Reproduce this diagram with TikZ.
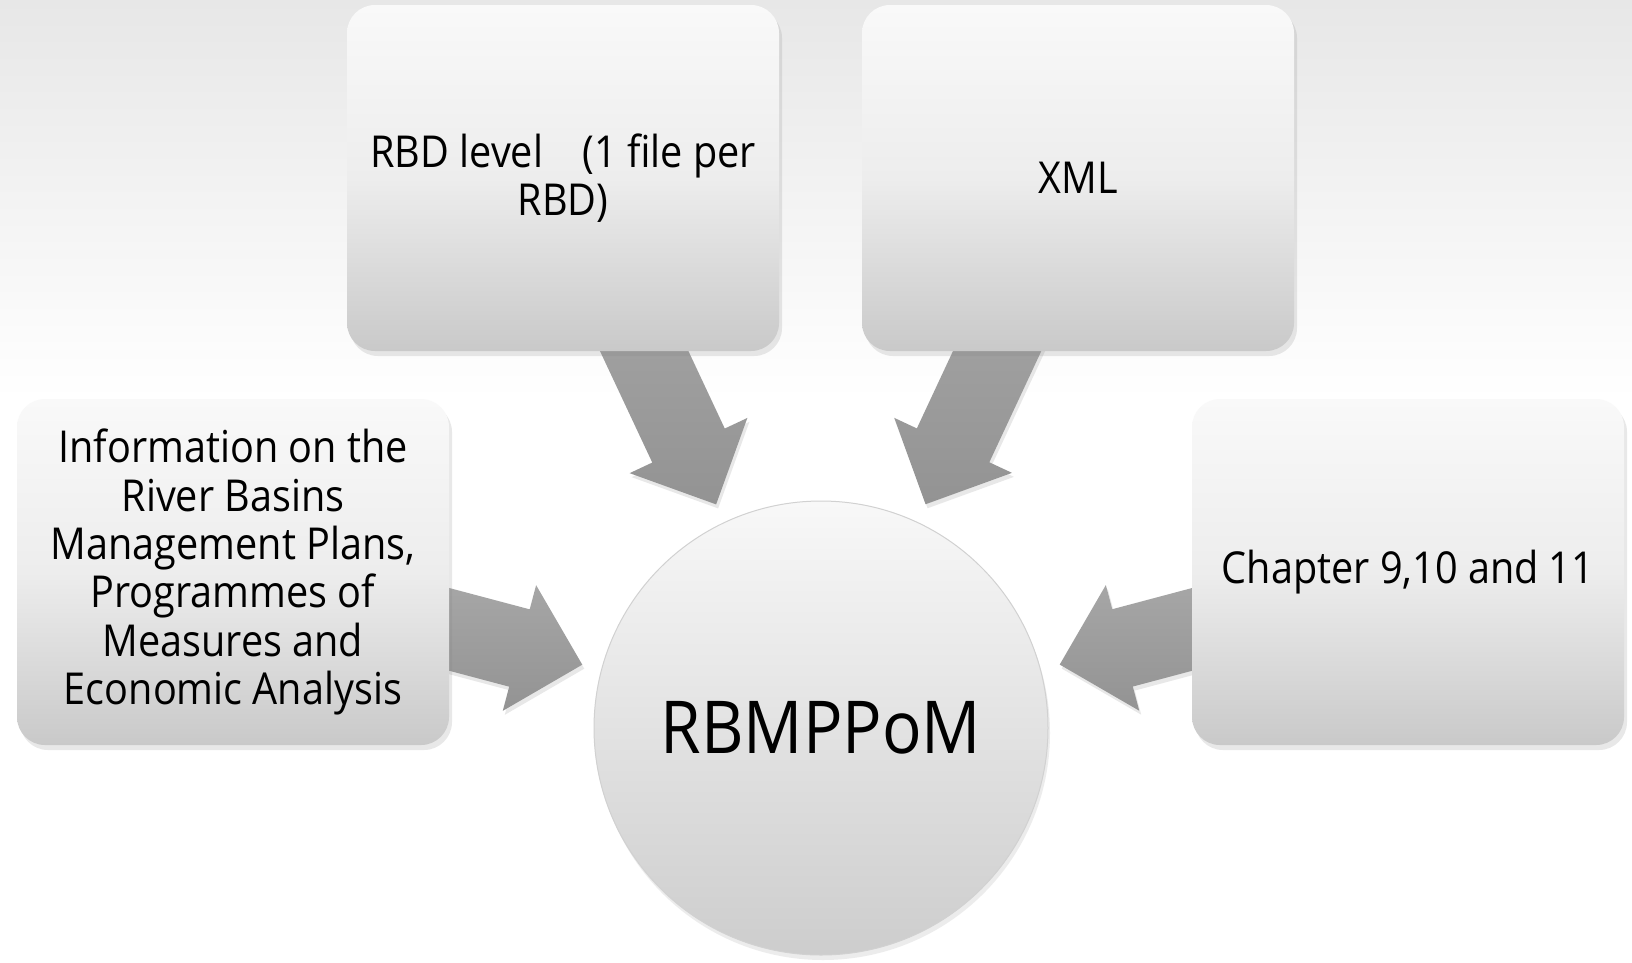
\documentclass[tikz,border=0pt]{standalone}
\usepackage{fontspec}
\setmainfont{Open Sans}[FakeStretch=0.9]
\usetikzlibrary{calc,shadows}
\definecolor{bgtop}{HTML}{E7E7E7}
\definecolor{boxtop}{HTML}{F9F9F9}
\definecolor{boxmid}{HTML}{EDEDED}
\definecolor{boxbot}{HTML}{C9C9C9}
\definecolor{hubtop}{HTML}{F8F8F8}
\definecolor{hubbot}{HTML}{CDCDCD}
\definecolor{arrowtop}{HTML}{AEAEAE}
\definecolor{arrowbot}{HTML}{939393}
\pgfdeclarelayer{backdrop}
\pgfdeclarelayer{links}
\pgfsetlayers{backdrop,links,main}
\newcommand{\blockarrow}[2]
{   \coordinate (#2-j) at ($(#2)!65pt!(#1.center)$);
    \path[arrowfill] ($(#1.center)!40pt!90:(#2)$) -- ($(#2-j)!40pt!90:(#2)$) -- ($(#2-j)!65pt!90:(#2)$) -- (#2) -- ($(#2-j)!65pt!-90:(#2)$) -- ($(#2-j)!40pt!-90:(#2)$) -- ($(#1.center)!40pt!-90:(#2)$) -- cycle;
}
\tikzset{
  box/.style={rectangle, rounded corners=28pt, minimum width=432pt, minimum height=346pt, inner sep=0pt, align=center,
    top color=boxtop, bottom color=boxbot, middle color=boxmid,
    drop shadow={shadow xshift=3pt, shadow yshift=-5pt, opacity=0.18},
    font=\fontsize{44}{48.3}\selectfont},
  hub/.style={circle, minimum size=454pt, inner sep=0pt, draw=black!18, line width=1pt,
    top color=hubtop, bottom color=hubbot,
    drop shadow={shadow xshift=2pt, shadow yshift=-5pt, opacity=0.15},
    font=\fontsize{73}{80}\selectfont},
  arrowfill/.style={top color=arrowtop, bottom color=arrowbot,
    drop shadow={shadow xshift=2pt, shadow yshift=-4pt, opacity=0.18}}
}
\begin{document}
\begin{tikzpicture}[x=1pt,y=-1pt]

 \useasboundingbox (0,0) rectangle (1632,962);
 \begin{pgfonlayer}{backdrop}
   \fill[white] (0,0) rectangle (1632,962);
   \shade[top color=bgtop, bottom color=white] (0,0) rectangle (1632,400);
 \end{pgfonlayer}

 \node[box] (rbd) at (563,178) {RBD level\hspace{29pt} (1 file per\\RBD)};
 \node[box] (xml) at (1078,178) {XML};
 \node[box] (info) at (233,572) {Information on the\\River Basins\\Management Plans,\\Programmes of\\Measures and\\Economic Analysis};
 \node[box] (chap) at (1408,572) {Chapter 9,10 and 11};
 \node[hub] (hub) at (821,728) {RBMPPoM};

 \coordinate (tipA) at ($(hub.center)!247pt!(rbd.center)$);
 \coordinate (tipB) at ($(hub.center)!247pt!(xml.center)$);
 \coordinate (tipC) at ($(hub.center)!247pt!(info.center)$);
 \coordinate (tipD) at ($(hub.center)!247pt!(chap.center)$);

 \begin{pgfonlayer}{links}
   \blockarrow{rbd}{tipA}
   \blockarrow{xml}{tipB}
   \blockarrow{info}{tipC}
   \blockarrow{chap}{tipD}
 \end{pgfonlayer}

\end{tikzpicture}
\end{document}
